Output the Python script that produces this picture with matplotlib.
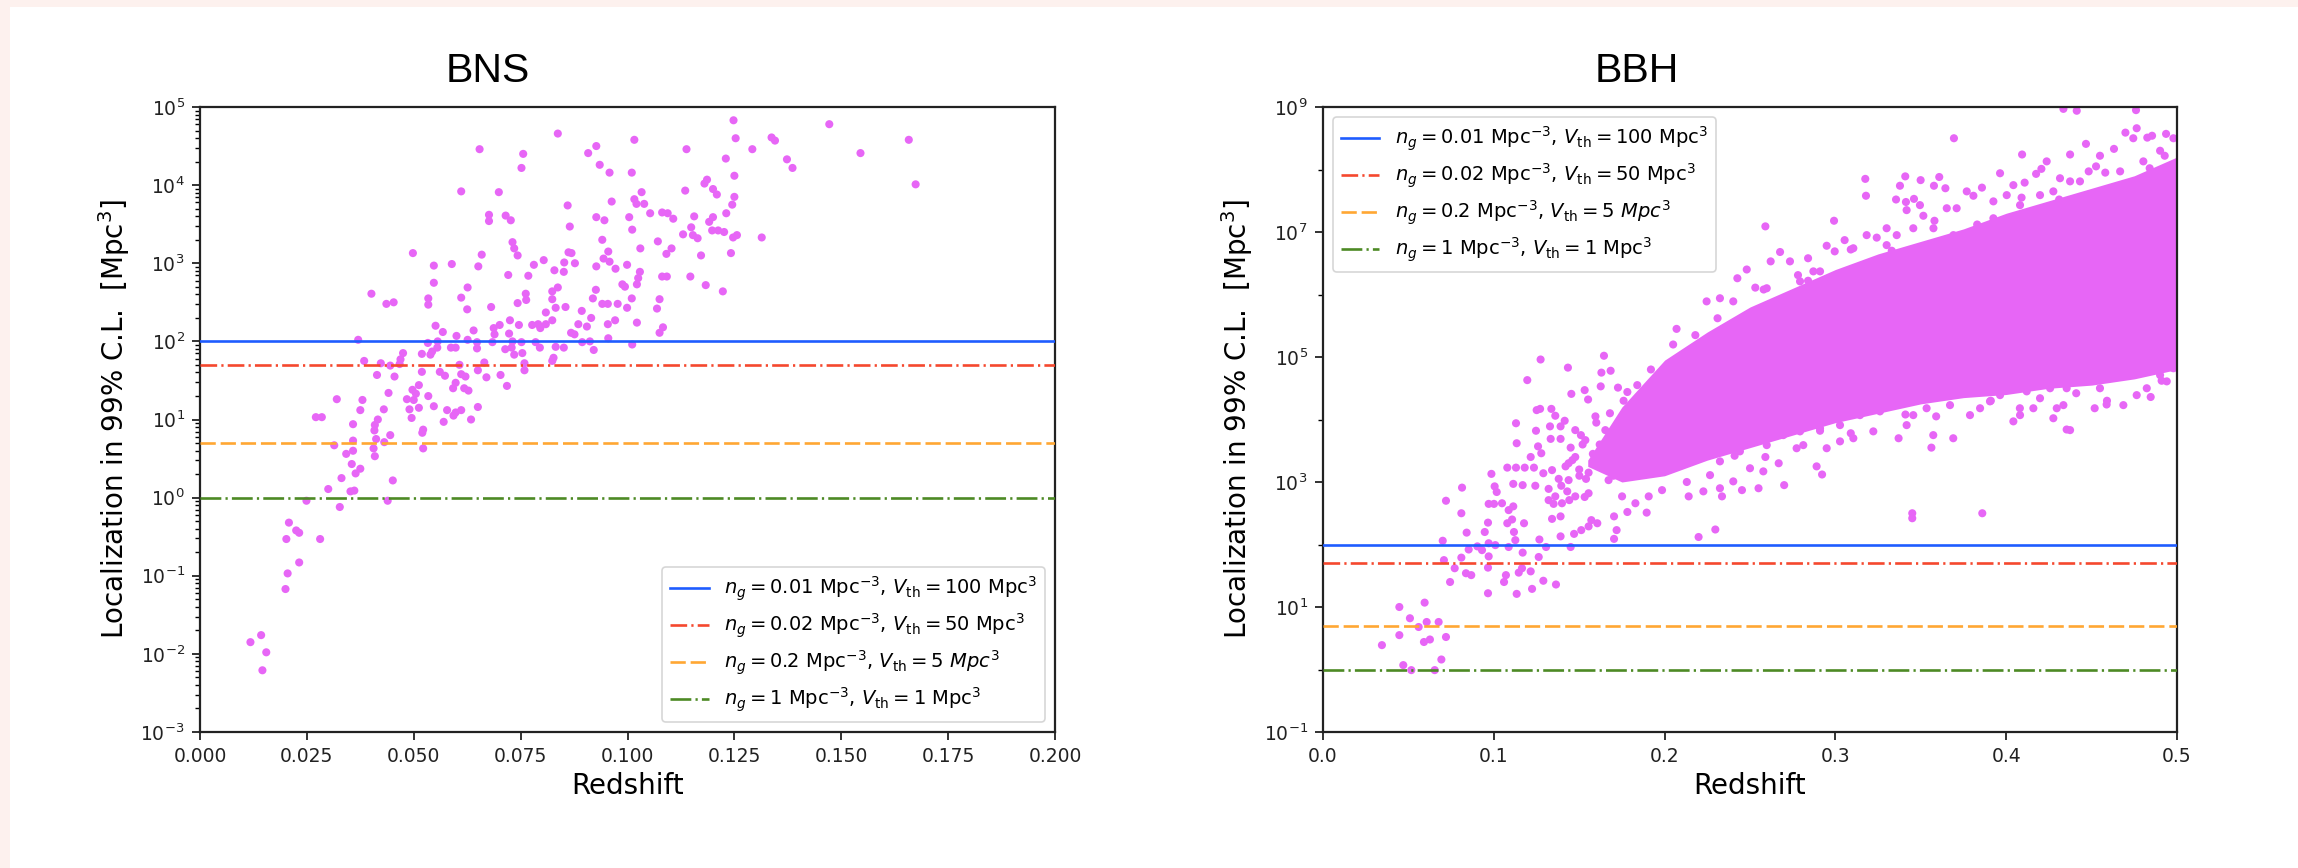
import numpy as np
import matplotlib
matplotlib.use("Agg")
import matplotlib.pyplot as plt
from matplotlib.patches import Rectangle
from matplotlib.ticker import LogLocator, FixedLocator, NullFormatter

# ---------------------------------------------------------------------------
# BNS events: redshift and log10 of the 99% C.L. localization volume [Mpc^3]
# ---------------------------------------------------------------------------
bns_redshift = [
    0.0837, 0.0654, 0.0756, 0.0752, 0.0927, 0.0908, 0.0935, 0.0958, 0.0611, 0.0699,
    0.0860, 0.0963, 0.0676, 0.0676, 0.0715, 0.0727, 0.0865, 0.0927, 0.0946, 0.0941,
    0.0731, 0.0735, 0.0743, 0.0862, 0.0869, 0.0498, 0.0659, 0.0651, 0.0547, 0.0589,
    0.0955, 0.0944, 0.0958, 0.0972, 0.0927, 0.0804, 0.0781, 0.0852, 0.0877, 0.0829,
    0.0851, 0.0721, 0.0768, 0.0547, 0.0626, 0.0837, 0.0824, 0.0762, 0.0926, 0.0988,
    0.0401, 0.0436, 0.0453, 0.0534, 0.0534, 0.0611, 0.0625, 0.0681, 0.0743, 0.0763,
    0.0824, 0.0832, 0.0855, 0.0809, 0.0893, 0.0919, 0.0941, 0.0954, 0.0977, 0.0551,
    0.0568, 0.0600, 0.0640, 0.0687, 0.0701, 0.0725, 0.0746, 0.0777, 0.0791, 0.0796,
    0.0809, 0.0824, 0.0885, 0.0905, 0.0915, 0.0954, 0.0971, 0.0868, 0.0876, 0.0955,
    0.0370, 0.0533, 0.0556, 0.0587, 0.0598, 0.0626, 0.0648, 0.0648, 0.0689, 0.0684,
    0.0723, 0.0731, 0.0714, 0.0729, 0.0735, 0.0752, 0.0754, 0.0785, 0.0795, 0.0832,
    0.0851, 0.0894, 0.0912, 0.0921, 0.0519, 0.0543, 0.0555, 0.0539, 0.0475, 0.0469,
    0.0384, 0.0423, 0.0445, 0.0467, 0.0607, 0.0665, 0.0759, 0.0759, 0.0824, 0.0827,
    0.0414, 0.0455, 0.0519, 0.0561, 0.0573, 0.0611, 0.0621, 0.0650, 0.0670, 0.0703,
    0.0598, 0.0592, 0.0618, 0.0628, 0.0718, 0.0512, 0.0497, 0.0505, 0.0441, 0.0534,
    0.0320, 0.0380, 0.0484, 0.0500, 0.0547, 0.0650, 0.0375, 0.0430, 0.0490, 0.0512,
    0.0578, 0.0611, 0.0598,
    0.1248, 0.1472, 0.1016, 0.1253, 0.1337, 0.1345, 0.1658, 0.1138, 0.1292, 0.1545,
    0.1230, 0.1373, 0.1386, 0.1010, 0.1250, 0.1186, 0.1180, 0.1674, 0.1135, 0.1200,
    0.1209, 0.1033, 0.1016, 0.1021, 0.1039, 0.1250, 0.1245, 0.1053, 0.1081, 0.1094,
    0.1107, 0.1004, 0.1156, 0.1200, 0.1191, 0.1231, 0.1011, 0.1149, 0.1130, 0.1153,
    0.1164, 0.1198, 0.1212, 0.1226, 0.1247, 0.1256, 0.1314, 0.1071, 0.1030, 0.1103,
    0.1091, 0.1172, 0.1242, 0.0999, 0.1029, 0.1025, 0.1022, 0.0994, 0.1081, 0.1092,
    0.1147, 0.1183, 0.1223, 0.1010, 0.1075, 0.0999, 0.1069, 0.1022, 0.1083, 0.1075,
    0.1011,
    0.0271, 0.0285, 0.0358, 0.0416, 0.0409, 0.0408, 0.0495, 0.0570, 0.0634, 0.0593,
    0.0445, 0.0412, 0.0431, 0.0358, 0.0314, 0.0358, 0.0342, 0.0406, 0.0409, 0.0520,
    0.0522, 0.0522, 0.0355, 0.0375, 0.0364, 0.0331, 0.0451, 0.0300, 0.0352, 0.0361,
    0.0249, 0.0439, 0.0327, 0.0208, 0.0225, 0.0232, 0.0202, 0.0281, 0.0232, 0.0205,
    0.0200, 0.0143, 0.0118, 0.0155, 0.0146,
]
bns_log10_volume = [
    4.66, 4.46, 4.40, 4.22, 4.50, 4.41, 4.26, 4.16, 3.92, 3.91,
    3.74, 3.79, 3.62, 3.54, 3.61, 3.55, 3.47, 3.59, 3.55, 3.30,
    3.27, 3.19, 3.10, 3.14, 3.13, 3.13, 3.11, 2.96, 2.97, 2.99,
    3.15, 3.06, 3.02, 2.93, 2.96, 3.04, 2.98, 3.01, 3.00, 2.91,
    2.89, 2.85, 2.84, 2.75, 2.69, 2.69, 2.64, 2.61, 2.66, 2.73,
    2.61, 2.48, 2.50, 2.55, 2.47, 2.56, 2.41, 2.44, 2.49, 2.53,
    2.54, 2.43, 2.44, 2.37, 2.39, 2.55, 2.48, 2.48, 2.48, 2.20,
    2.12, 2.07, 2.14, 2.17, 2.21, 2.27, 2.21, 2.21, 2.22, 2.17,
    2.22, 2.27, 2.22, 2.19, 2.30, 2.22, 2.27, 2.11, 2.09, 2.04,
    2.02, 1.98, 2.00, 1.92, 1.92, 2.02, 1.99, 1.91, 2.09, 1.99,
    2.10, 2.00, 1.90, 1.92, 1.83, 1.99, 1.85, 1.99, 1.92, 1.93,
    1.92, 1.99, 2.00, 1.89, 1.84, 1.87, 1.92, 1.83, 1.85, 1.77,
    1.75, 1.72, 1.69, 1.71, 1.70, 1.73, 1.72, 1.63, 1.75, 1.79,
    1.57, 1.55, 1.61, 1.61, 1.56, 1.58, 1.55, 1.63, 1.54, 1.57,
    1.47, 1.40, 1.40, 1.37, 1.43, 1.44, 1.38, 1.33, 1.34, 1.30,
    1.26, 1.25, 1.26, 1.25, 1.17, 1.16, 1.12, 1.13, 1.13, 1.15,
    1.12, 1.12, 1.09,
    4.83, 4.78, 4.58, 4.60, 4.61, 4.57, 4.58, 4.46, 4.46, 4.41,
    4.34, 4.33, 4.22, 4.16, 4.12, 4.07, 4.02, 4.01, 3.93, 3.95,
    3.88, 3.91, 3.82, 3.76, 3.76, 3.85, 3.75, 3.64, 3.65, 3.64,
    3.57, 3.59, 3.60, 3.59, 3.53, 3.64, 3.43, 3.46, 3.37, 3.36,
    3.32, 3.42, 3.42, 3.40, 3.33, 3.36, 3.33, 3.28, 3.19, 3.19,
    3.12, 3.10, 3.13, 2.98, 2.89, 2.81, 2.73, 2.70, 2.83, 2.83,
    2.83, 2.72, 2.64, 2.55, 2.54, 2.43, 2.42, 2.24, 2.18, 2.11,
    1.96,
    1.03, 1.03, 0.94, 1.00, 0.93, 0.86, 1.02, 0.97, 1.00, 1.05,
    0.80, 0.75, 0.71, 0.73, 0.67, 0.60, 0.56, 0.63, 0.53, 0.83,
    0.87, 0.63, 0.43, 0.37, 0.31, 0.25, 0.22, 0.11, 0.08, 0.09,
    -0.04, -0.04, -0.12, -0.32, -0.42, -0.45, -0.53, -0.53, -0.83, -0.97,
    -1.17, -1.76, -1.85, -1.98, -2.21,
]

# ---------------------------------------------------------------------------
# BBH events: the crowded band where markers merge (lower/upper envelope in
# log10 volume) and the individually resolved events around it
# ---------------------------------------------------------------------------
bbh_band_redshift = [0.155, 0.175, 0.200, 0.225, 0.250, 0.275, 0.300,
                     0.325, 0.350, 0.375, 0.400, 0.425, 0.450, 0.475, 0.500]
bbh_band_upper = [3.35, 4.20, 4.95, 5.40, 5.80, 6.10, 6.40,
                  6.65, 6.85, 7.05, 7.30, 7.50, 7.70, 7.90, 8.20]
bbh_band_lower = [3.25, 3.00, 3.10, 3.35, 3.55, 3.75, 3.95,
                  4.10, 4.25, 4.35, 4.40, 4.50, 4.55, 4.65, 4.80]

bbh_redshift = [
    # low-redshift tail
    0.0345, 0.0447, 0.0447, 0.0509, 0.0560, 0.0595, 0.0607, 0.0591, 0.0626, 0.0677,
    0.0720, 0.0693, 0.0470, 0.0517, 0.0654,
    0.0744, 0.0708, 0.0701, 0.0810, 0.0771, 0.0837, 0.0868, 0.0853, 0.0841, 0.0810,
    0.0720, 0.0814, 0.0947, 0.0966, 0.0904, 0.0931, 0.0970, 0.1009, 0.0970, 0.0966,
    0.0966, 0.1060, 0.1071, 0.1134, 0.1146, 0.1165, 0.1216, 0.1224, 0.1169, 0.1263,
    0.1290, 0.1364, 0.1267, 0.1306, 0.1126, 0.1087, 0.1118, 0.1177, 0.1391, 0.1450,
    0.1470, 0.1512, 0.1555, 0.1606, 0.1571, 0.1704, 0.1719, 0.1704, 0.1782, 0.1895,
    0.2199, 0.2297, 0.1341, 0.1391, 0.0986, 0.1005, 0.1017, 0.0970, 0.1001, 0.1048,
    0.1087, 0.1114, 0.1107, 0.1079, 0.1169, 0.1114, 0.1243, 0.1079, 0.1130, 0.1181,
    0.1235, 0.1134, 0.1130, 0.1196, 0.1274, 0.1434, 0.1454, 0.1532, 0.1552, 0.1645,
    0.1630, 0.1684, 0.1626, 0.1727, 0.1782, 0.1251, 0.1271, 0.1337, 0.1360, 0.1415,
    0.1247, 0.1329, 0.1391, 0.1333, 0.1391, 0.1259, 0.1278, 0.1216, 0.1290, 0.1341,
    0.1321, 0.1360, 0.1321, 0.1399, 0.1442, 0.1477, 0.1532, 0.1555, 0.1395, 0.1438,
    0.1501, 0.1555, 0.1477, 0.1438, 0.1536, 0.1477, 0.1595, 0.1653, 0.1595, 0.1672,
    0.1751, 0.1829, 0.1907, 0.1985, 0.2141, 0.2336, 0.2453,
    0.1600, 0.1680, 0.1760, 0.1840, 0.1920, 0.1660, 0.1740, 0.1820, 0.1900, 0.1980,
    0.1450, 0.1520, 0.1580, 0.1420, 0.1500, 0.2050, 0.2120, 0.2180,
    0.1380, 0.1460, 0.1540, 0.1620, 0.1700, 0.1350, 0.1430, 0.1510,
    # above the band
    0.4335, 0.4413, 0.4760, 0.3694, 0.4698, 0.4744, 0.4764, 0.4826, 0.4854, 0.4936,
    0.4979, 0.4093, 0.4374, 0.4467, 0.4631, 0.4928, 0.4549, 0.4526, 0.4483, 0.4237,
    0.4206, 0.4175, 0.3964, 0.4108, 0.3175, 0.3179, 0.3409, 0.3499, 0.3608, 0.3577,
    0.3644, 0.3378, 0.3355, 0.3413, 0.3460, 0.3495, 0.3417, 0.3515, 0.3652, 0.3710,
    0.3769, 0.3858, 0.3808, 0.2590, 0.2992, 0.3054, 0.2949, 0.2996, 0.3242, 0.3300,
    0.3359, 0.2676, 0.2734, 0.2621, 0.2840, 0.2871, 0.2781, 0.2481, 0.2426, 0.2531,
    0.2324, 0.2246, 0.4315, 0.4374, 0.4198, 0.4042, 0.4003, 0.3925,
    0.3574, 0.3691, 0.3456, 0.3300, 0.3183, 0.3105, 0.3925, 0.4081, 0.4276, 0.4432,
    0.4667, 0.4803, 0.4901, 0.4667, 0.4823, 0.2793, 0.2910, 0.2402, 0.2598,
    0.2070, 0.2310, 0.2580, 0.2840, 0.3090, 0.3330, 0.3580, 0.3830, 0.4090, 0.4310,
    0.4580, 0.4840,
    # below the band
    0.2227, 0.2324, 0.2402, 0.2500, 0.2578, 0.2668, 0.2890, 0.2922, 0.2773, 0.2812,
    0.2949, 0.3027, 0.3105, 0.3222, 0.3370, 0.3417, 0.3562, 0.3573, 0.3690, 0.3456,
    0.3534, 0.3671, 0.3788, 0.3847, 0.3905, 0.3964, 0.4042, 0.4081, 0.4159, 0.4198,
    0.4276, 0.4296, 0.4335, 0.4354, 0.4374, 0.4518, 0.4588, 0.4686, 0.4764, 0.4823,
    0.4846, 0.4549, 0.4452, 0.4354, 0.4257, 0.4120, 0.4042, 0.3925, 0.3788, 0.3690,
    0.3573, 0.3456, 0.3359, 0.3261, 0.3144, 0.3027, 0.2910, 0.2793, 0.2695, 0.2598,
    0.2441, 0.2324, 0.2266, 0.4940, 0.4979, 0.4901,
    0.2363, 0.2519, 0.2285, 0.2715, 0.2871, 0.2441,
    0.2130, 0.2410, 0.2590, 0.2910, 0.3090, 0.3410, 0.3590, 0.3910, 0.4080, 0.4410,
    0.4590, 0.4910,
    # isolated well-localized events at higher redshift
    0.3450, 0.3450, 0.3860, 0.2700, 0.2550,
]
bbh_log10_volume = [
    0.39, 0.55, 1.00, 0.82, 0.68, 1.07, 0.76, 0.44, 0.48, 0.76,
    0.52, 0.16, 0.07, -0.01, -0.01,
    1.40, 1.75, 2.06, 1.79, 1.62, 1.54, 1.51, 1.92, 2.19, 2.50,
    2.70, 2.91, 2.20, 2.35, 1.97, 1.91, 2.02, 1.99, 1.81, 1.63,
    1.22, 1.40, 1.51, 1.21, 1.55, 1.62, 1.57, 1.29, 1.87, 1.80,
    1.42, 1.36, 2.08, 1.96, 2.07, 1.96, 2.20, 2.34, 2.13, 1.96,
    2.17, 2.23, 2.29, 2.34, 2.39, 2.09, 2.23, 2.45, 2.52, 2.51,
    2.12, 2.24, 2.41, 2.45, 3.13, 2.93, 2.84, 2.65, 2.65, 2.66,
    2.55, 2.61, 2.40, 2.34, 2.95, 2.97, 2.94, 3.23, 3.23, 3.23,
    3.23, 3.62, 3.94, 4.63, 4.96, 4.83, 4.41, 4.47, 4.32, 5.02,
    4.75, 4.78, 4.53, 4.51, 4.44, 4.15, 4.17, 4.17, 4.06, 3.98,
    3.82, 3.89, 3.89, 3.69, 3.69, 3.57, 3.46, 3.40, 3.14, 3.19,
    2.89, 2.77, 2.71, 2.66, 2.71, 2.77, 2.76, 2.82, 2.94, 3.03,
    3.10, 3.15, 3.40, 3.30, 3.67, 3.83, 4.05, 3.83, 3.30, 3.03,
    2.77, 2.66, 2.77, 2.87, 2.77, 2.77, 2.87,
    3.95, 4.10, 4.30, 4.55, 4.80, 3.55, 3.70, 3.90, 4.10, 4.35,
    3.55, 3.60, 3.45, 3.25, 3.20, 5.20, 5.05, 5.35,
    3.05, 3.35, 3.05, 3.60, 3.10, 2.65, 2.85, 3.75,
    8.97, 8.94, 8.95, 8.50, 8.59, 8.50, 8.66, 8.51, 8.54, 8.57,
    8.50, 8.24, 8.24, 8.41, 8.33, 8.22, 8.22, 8.05, 7.97, 8.13,
    8.01, 7.93, 7.94, 7.79, 7.85, 7.58, 7.89, 7.83, 7.88, 7.74,
    7.70, 7.74, 7.52, 7.48, 7.53, 7.43, 7.35, 7.26, 7.38, 7.38,
    7.65, 7.71, 7.58, 7.09, 7.18, 6.87, 6.78, 6.69, 6.91, 6.79,
    6.95, 6.68, 6.53, 6.53, 6.58, 6.37, 6.31, 6.40, 6.26, 6.11,
    5.94, 5.89, 7.86, 7.81, 7.59, 7.75, 7.59, 7.49,
    7.06, 6.95, 7.06, 7.06, 6.95, 6.74, 7.22, 7.43, 7.65, 7.81,
    7.97, 8.13, 8.30, 7.70, 7.81, 6.21, 6.37, 5.89, 6.10,
    5.45, 5.62, 6.08, 6.22, 6.72, 6.70, 7.18, 7.12, 7.55, 7.52,
    7.95, 8.02,
    2.85, 2.90, 3.01, 3.22, 3.17, 3.30, 3.25, 3.12, 3.54, 3.59,
    3.54, 3.65, 3.70, 3.81, 3.70, 3.91, 3.55, 3.75, 3.70, 4.07,
    4.18, 4.23, 4.07, 4.18, 4.29, 4.39, 3.97, 4.07, 4.18, 4.34,
    4.02, 4.18, 4.23, 3.84, 3.83, 4.18, 4.24, 4.23, 4.39, 4.50,
    4.36, 4.50, 4.61, 4.50, 4.50, 4.45, 4.61, 4.50, 4.50, 4.50,
    4.39, 4.34, 4.29, 4.13, 4.07, 3.91, 3.86, 3.81, 3.75, 3.59,
    3.49, 3.33, 3.11, 4.61, 4.82, 4.71,
    3.97, 4.07, 3.65, 4.18, 4.29, 3.81,
    3.00, 3.42, 3.40, 3.82, 3.78, 4.08, 4.05, 4.30, 4.18, 4.42,
    4.30, 4.62,
    2.50, 2.42, 2.50, 2.95, 2.90,
]

# Galaxy-number-density thresholds: localization volume [Mpc^3]
threshold_volume = [100, 50, 5, 1]
threshold_labels = [
    r'$n_g = 0.01$ Mpc$^{-3}$, $V_{\rm th} = 100$ Mpc$^3$',
    r'$n_g = 0.02$ Mpc$^{-3}$, $V_{\rm th} = 50$ Mpc$^3$',
    r'$n_g = 0.2$ Mpc$^{-3}$, $V_{\rm th} = 5\ Mpc^3$',
    r'$n_g = 1$ Mpc$^{-3}$, $V_{\rm th} = 1$ Mpc$^3$',
]
threshold_styles = [
    dict(color='#1f5cff', linestyle='-'),
    dict(color='#f5482e', dashes=(12, 3, 1.6, 3)),
    dict(color='#ffa733', dashes=(11, 3.5)),
    dict(color='#4d8a24', dashes=(15, 3, 1.6, 3)),
]

POINT_COLOR = '#e766f6'
W, H = 2298, 868

plt.rcParams['font.family'] = ['DejaVu Sans']
plt.rcParams['lines.scale_dashes'] = False
plt.rcParams['mathtext.fontset'] = 'dejavusans'

fig = plt.figure(figsize=(W / 100, H / 100), dpi=100)
fig.patch.set_facecolor('white')
# thin tinted frame along the top and left edges
fig.patches.append(Rectangle((0, 1 - 7 / H), 1, 7 / H, transform=fig.transFigure,
                             facecolor='#fdf1ee', edgecolor='none', zorder=-5))
fig.patches.append(Rectangle((0, 0), 10 / W, 1, transform=fig.transFigure,
                             facecolor='#fdf1ee', edgecolor='none', zorder=-5))

ax1 = fig.add_axes([200 / W, 136 / H, 855 / W, 625 / H])
ax2 = fig.add_axes([1323 / W, 136 / H, 854 / W, 625 / H])


def style_axes(ax):
    for sp in ax.spines.values():
        sp.set_linewidth(1.6)
        sp.set_color('#222222')
    ax.tick_params(which='major', direction='out', length=6, width=1.3,
                   labelsize=13.5, pad=5, colors='#222222')
    ax.tick_params(which='minor', direction='out', length=3.5, width=1.0)
    ax.set_xlabel('Redshift', fontsize=20, labelpad=4)
    ax.set_ylabel('Localization in 99% C.L.  [Mpc$^3$]', fontsize=20, labelpad=6)


def draw_thresholds(ax, loc):
    for v, lab, st in zip(threshold_volume, threshold_labels, threshold_styles):
        ax.axhline(v, linewidth=1.9, label=lab, zorder=3, **st)
    leg = ax.legend(loc=loc, fontsize=14, framealpha=0.8, fancybox=True,
                    handlelength=2.0, borderaxespad=0.5, labelspacing=0.45)
    leg.get_frame().set_edgecolor('#cccccc')
    leg.get_frame().set_linewidth(1.2)


# --- BNS ---
ax1.scatter(bns_redshift, 10 ** np.asarray(bns_log10_volume), s=34,
            color=POINT_COLOR, edgecolors='none', zorder=2)
draw_thresholds(ax1, 'lower right')
ax1.set_yscale('log')
ax1.set_xlim(0, 0.2)
ax1.set_ylim(1e-3, 1e5)
ax1.set_xticks(np.arange(0, 0.2001, 0.025))
ax1.set_xticklabels([f'{t:.3f}' for t in np.arange(0, 0.2001, 0.025)])
ax1.yaxis.set_major_locator(LogLocator(base=10, numticks=20))
ax1.yaxis.set_minor_locator(LogLocator(base=10, subs=np.arange(2, 10), numticks=20))
ax1.yaxis.set_minor_formatter(NullFormatter())
style_axes(ax1)

# --- BBH ---
ax2.fill_between(bbh_band_redshift, 10 ** np.asarray(bbh_band_lower),
                 10 ** np.asarray(bbh_band_upper), color=POINT_COLOR,
                 linewidth=0, zorder=2)
ax2.scatter(bbh_redshift, 10 ** np.asarray(bbh_log10_volume), s=34,
            color=POINT_COLOR, edgecolors='none', zorder=2, clip_on=True)
draw_thresholds(ax2, 'upper left')
ax2.set_yscale('log')
ax2.set_xlim(0, 0.5)
ax2.set_ylim(1e-1, 1e9)
ax2.set_xticks(np.arange(0, 0.501, 0.1))
ax2.set_xticklabels([f'{t:.1f}' for t in np.arange(0, 0.501, 0.1)])
ax2.yaxis.set_major_locator(FixedLocator([1e-1, 1e1, 1e3, 1e5, 1e7, 1e9]))
ax2.yaxis.set_minor_locator(FixedLocator([1e0, 1e2, 1e4, 1e6, 1e8]))
ax2.yaxis.set_minor_formatter(NullFormatter())
style_axes(ax2)

fig.text(488 / W, 1 - 71 / H, 'BNS', family='Liberation Sans', fontsize=29.5,
         ha='center', va='center')
fig.text(1637 / W, 1 - 71 / H, 'BBH', family='Liberation Sans', fontsize=29.5,
         ha='center', va='center')

fig.savefig('out.png', dpi=100, facecolor=fig.get_facecolor())
